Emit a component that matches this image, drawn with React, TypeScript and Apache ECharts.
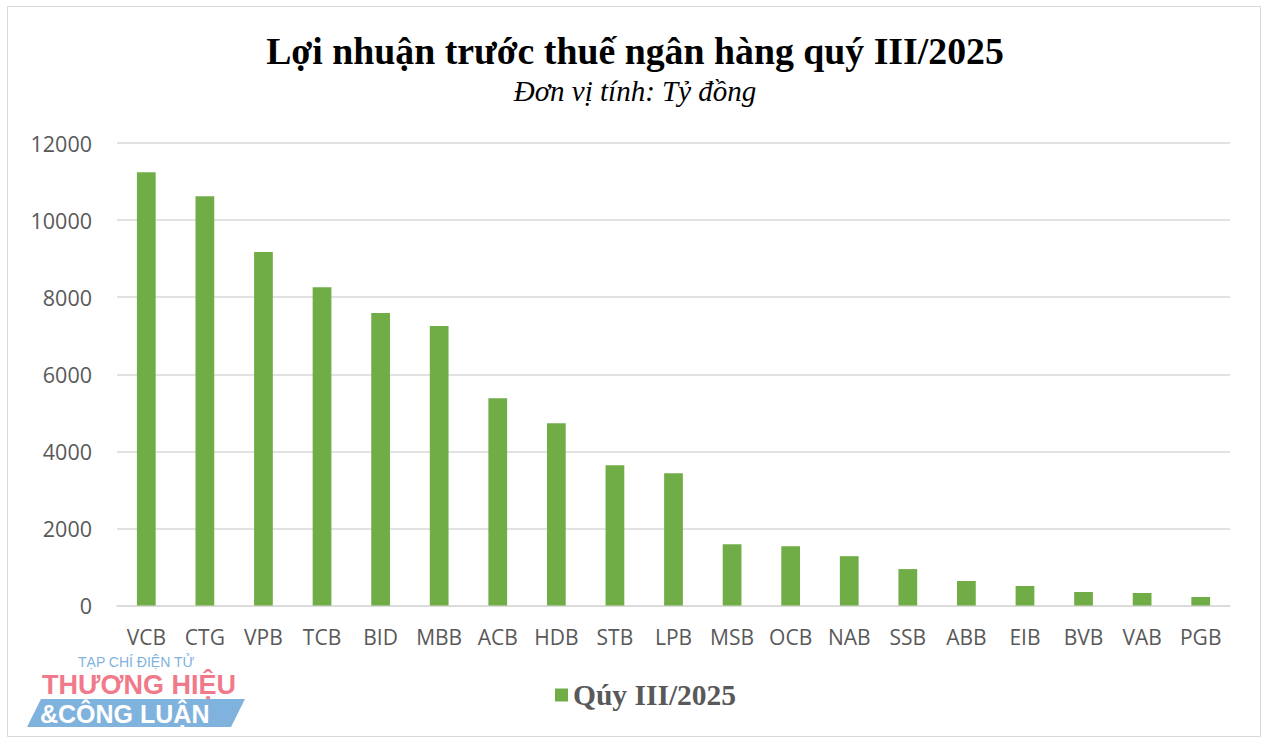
import React, { useEffect, useRef } from "react";
import * as echarts from "echarts";

const categories = ["VCB", "CTG", "VPB", "TCB", "BID", "MBB", "ACB", "HDB", "STB", "LPB", "MSB", "OCB", "NAB", "SSB", "ABB", "EIB", "BVB", "VAB", "PGB"];
const profitQ3 = [11240, 10620, 9170, 8260, 7590, 7250, 5380, 4730, 3640, 3430, 1590, 1540, 1280, 945, 635, 505, 350, 325, 220];
const seriesName = "Qúy III/2025";
const yTicks = { min: 0, max: 12000, interval: 2000 };

export default function App() {
  const ref = useRef<HTMLDivElement>(null);
  useEffect(() => {
    if (!ref.current) return;
    const chart = echarts.init(ref.current, null, { renderer: "svg" });
    chart.setOption({
      animation: false,
      backgroundColor: "#ffffff",
      title: {
        text: "Lợi nhuận trước thuế ngân hàng quý III/2025",
        subtext: "Đơn vị tính: Tỷ đồng",
        left: "center",
        top: 27,
        itemGap: 6,
        textStyle: { fontFamily: "Liberation Serif", fontWeight: "bold", fontSize: 37.8, color: "#000000" },
        subtextStyle: { fontFamily: "Liberation Serif", fontStyle: "italic", fontSize: 29, color: "#000000" },
      },
      legend: {
        data: [seriesName],
        bottom: 33,
        left: 550,
        itemWidth: 13,
        itemHeight: 13,
        icon: "rect",
        itemGap: 8,
        textStyle: { fontFamily: "Liberation Serif", fontWeight: "bold", fontSize: 29.5, color: "#595959" },
      },
      grid: { left: 117, right: 40, top: 143, bottom: 142.5 },
      xAxis: {
        type: "category",
        data: categories,
        axisLine: { lineStyle: { color: "#d9d9d9", width: 1.5 } },
        axisTick: { show: false },
        axisLabel: { color: "#595959", fontFamily: "Open Sans", fontSize: 21, margin: 21, interval: 0 },
      },
      yAxis: {
        type: "value",
        min: yTicks.min,
        max: yTicks.max,
        interval: yTicks.interval,
        axisLine: { show: false },
        axisTick: { show: false },
        splitLine: { lineStyle: { color: "#d9d9d9", width: 1.5 } },
        axisLabel: { color: "#595959", fontFamily: "Open Sans", fontSize: 21.5, margin: 25, formatter: (v: number) => String(v) },
      },
      series: [
        {
          name: seriesName,
          type: "bar",
          data: profitQ3,
          barWidth: "32%",
          itemStyle: { color: "#70ad47" },
        },
      ],
      graphic: [
        {
          type: "rect",
          shape: { x: 7.5, y: 6.5, width: 1253, height: 730 },
          style: { fill: "none", stroke: "#d9d9d9", lineWidth: 1 },
          silent: true,
        },
        {
          type: "group",
          left: 27,
          top: 655,
          children: [
            {
              type: "text",
              x: 51,
              y: 0,
              style: { text: "TẠP CHÍ ĐIỆN TỬ", fontFamily: "Liberation Sans", fontSize: 14, fill: "#7fb2dc" },
            },
            {
              type: "text",
              x: 15,
              y: 16,
              style: { text: "THƯƠNG HIỆU", fontFamily: "Liberation Sans", fontWeight: "bold", fontSize: 27, fill: "#f07a8a" },
            },
            {
              type: "polygon",
              shape: { points: [[14, 44], [218, 44], [204, 72], [0, 72]] },
              style: { fill: "#7fb2dc" },
            },
            {
              type: "text",
              x: 13,
              y: 46,
              style: { text: "&CÔNG LUẬN", fontFamily: "Liberation Sans", fontWeight: "bold", fontSize: 25, fill: "#ffffff" },
            },
          ],
        },
      ],
    });
    return () => chart.dispose();
  }, []);
  return <div ref={ref} style={{ position: "absolute", left: 0, top: 0, width: 1270, height: 748 }} />;
}
